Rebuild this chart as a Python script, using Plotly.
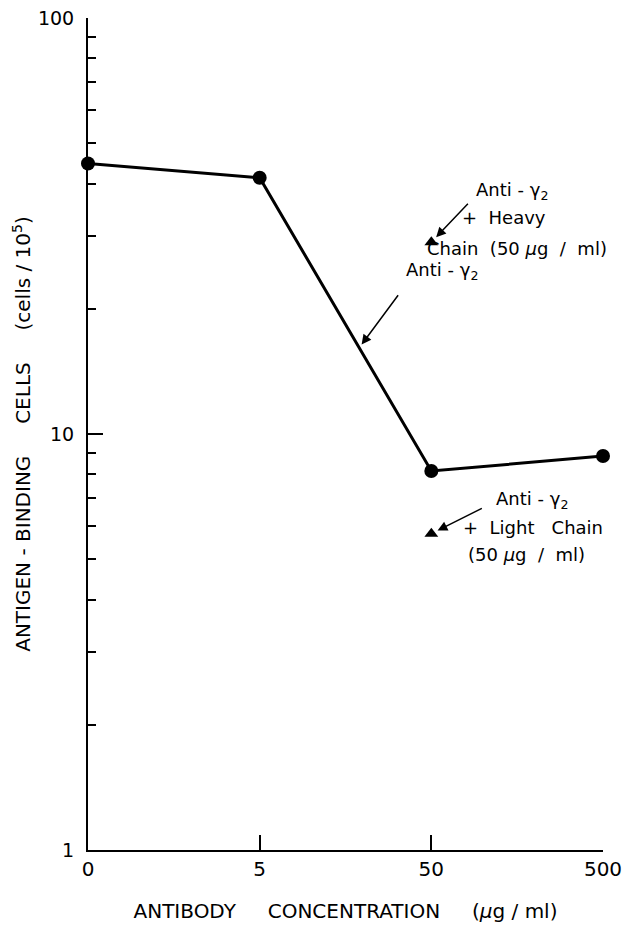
import math
import plotly.graph_objects as go

# ---- data ----
concentrations = ["0", "5", "50", "500"]
anti_gamma2 = [44.7, 41.3, 8.15, 8.85]
heavy_x = ["50"]
heavy_y = [28.9]
light_x = ["50"]
light_y = [5.76]
y_tickvals = [1, 10, 100]
y_ticktext = ["1", "10", "100"]
y_minor = [2, 3, 4, 5, 6, 7, 8, 9, 20, 30, 40, 50, 60, 70, 80, 90]

FONT = "DejaVu Sans"
# page body adds an 8px offset; plot area spans about x 88..603, y 18..850
L, R, T, B = 80, 44, 10, 86
TOP = 8 + T

fig = go.Figure()
fig.add_trace(go.Scatter(
    x=concentrations, y=anti_gamma2, mode="lines+markers",
    line=dict(color="black", width=3),
    marker=dict(symbol="circle", size=14, color="black"),
    cliponaxis=False, showlegend=False))
fig.add_trace(go.Scatter(
    x=heavy_x, y=heavy_y, mode="markers",
    marker=dict(symbol="triangle-up", size=12, color="black"),
    cliponaxis=False, showlegend=False))
fig.add_trace(go.Scatter(
    x=light_x, y=light_y, mode="markers",
    marker=dict(symbol="triangle-up", size=12, color="black"),
    cliponaxis=False, showlegend=False))

tf = dict(family=FONT, size=18, color="black")
annotations = []

arrow = dict(text="", showarrow=True, arrowhead=2, arrowsize=1.3,
             arrowwidth=1.5, arrowcolor="black", axref="pixel", ayref="pixel",
             xref="x", yref="y")
annotations.append(dict(arrow, x=2, y=math.log10(heavy_y[0]),
                        ax=38, ay=-40, standoff=7))
annotations.append(dict(arrow, x=2, y=math.log10(light_y[0]),
                        ax=52, ay=-26, standoff=7))
t = 0.58
ly = (1 - t) * math.log10(anti_gamma2[1]) + t * math.log10(anti_gamma2[2])
annotations.append(dict(arrow, x=1 + t, y=ly, ax=40, ay=-54, standoff=4))

def px(xp, yp):
    return (xp - 88) / 515, (850 - yp) / (850 - TOP)

def label(text, xp, yp, anchor="left", size=18):
    x, y = px(xp, yp)
    annotations.append(dict(x=x, y=y, xref="paper", yref="paper", text=text,
                            showarrow=False, xanchor=anchor, yanchor="middle",
                            font=dict(tf, size=size)))

label("Anti - γ<sub>2</sub>", 474, 191)
label("+  Heavy", 460, 217)
label("Chain  (50 <i>μ</i>g  /  ml)", 425, 248)
label("Anti - γ<sub>2</sub>", 404, 271)
label("Anti - γ<sub>2</sub>", 494, 500)
label("+  Light   Chain", 461, 527)
label("(50 <i>μ</i>g  /  ml)", 466, 554)

fig.update_layout(
    width=639, height=928,
    margin=dict(l=L, r=R, t=T, b=B),
    paper_bgcolor="white", plot_bgcolor="white",
    font=dict(family=FONT, color="black"),
    annotations=annotations,
    xaxis=dict(type="category", range=[0, 3], showgrid=False, zeroline=False,
               showline=True, linecolor="black", linewidth=2,
               ticks="inside", ticklen=15, tickwidth=2, tickcolor="black",
               tickfont=dict(family=FONT, size=20, color="black"),
               ticklabeloverflow="allow",
               title=dict(text="ANTIBODY     CONCENTRATION     (<i>μ</i>g / ml)",
                          font=dict(family=FONT, size=20, color="black"),
                          standoff=24),
               automargin=False),
    yaxis=dict(type="log", range=[0, 2], showgrid=False, zeroline=False,
               showline=True, linecolor="black", linewidth=2,
               tickmode="array", tickvals=y_tickvals, ticktext=y_ticktext,
               ticks="inside", ticklen=15, tickwidth=2, tickcolor="black",
               tickfont=dict(family=FONT, size=19, color="black"),
               ticklabelstandoff=8, ticklabeloverflow="allow",
               minor=dict(tickmode="array", tickvals=y_minor, ticks="inside",
                          ticklen=8, tickwidth=2, tickcolor="black",
                          showgrid=False),
               title=dict(text="ANTIGEN - BINDING     CELLS     (cells / 10<sup>5</sup>)",
                          font=dict(family=FONT, size=20, color="black"),
                          standoff=2),
               automargin=False),
)

fig.write_html("out.html")
